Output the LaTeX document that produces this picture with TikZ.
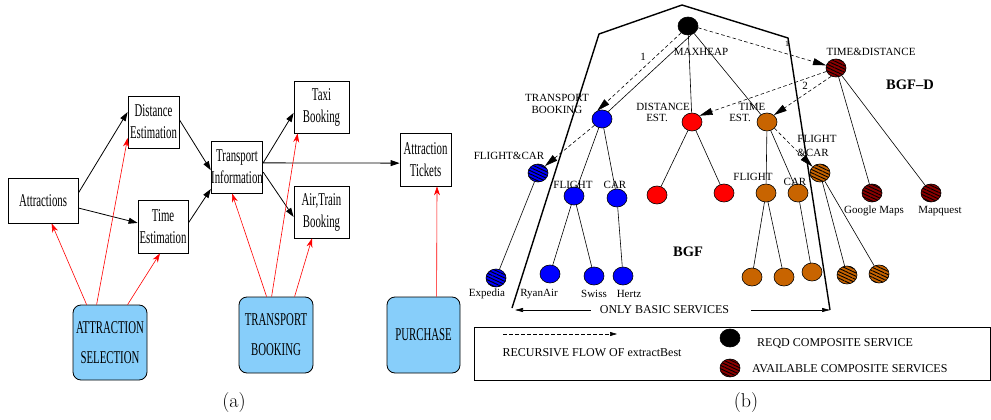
\documentclass[tikz,border=0pt]{standalone}
\usepackage{fontspec}
\newfontfamily\tms{Liberation Serif}
\newfontfamily\condA[FakeStretch=0.6]{Liberation Serif}
\usetikzlibrary{arrows.meta,shapes.geometric,patterns.meta}
\definecolor{skyb}{RGB}{135,206,250}
\definecolor{orng}{RGB}{200,100,0}
\definecolor{dred}{RGB}{140,0,0}
\tikzset{
  wbox/.style={draw, line width=0.8pt, inner sep=0pt, align=center,
    font=\condA\fontsize{18}{22}\selectfont},
  bbox/.style={draw, line width=0.8pt, inner sep=0pt, align=center, rounded corners=8pt,
    fill=skyb, font=\condA\fontsize{18}{30}\selectfont},
  blk/.style={line width=0.8pt, -{Triangle[length=9pt,width=6pt]}},
  rda/.style={red, line width=0.6pt, -{Stealth[length=9pt,width=6pt]}},
  cn/.style={ellipse, draw, line width=0.6pt, minimum width=20pt, minimum height=18pt, inner sep=0pt},
  hatch/.style={preaction={fill=#1}, pattern={Lines[angle=-25,distance=3pt,line width=0.9pt]}, pattern color=black},
  edg/.style={line width=0.6pt},
  dsh/.style={line width=0.6pt, dash pattern=on 3.5pt off 2.5pt, -{Triangle[length=13pt,width=7pt]}},
  lbl/.style={font=\tms\fontsize{11}{12}\selectfont, inner sep=0pt, align=center},
  lgd/.style={font=\tms\fontsize{12}{14}\selectfont, inner sep=0pt},
  captxt/.style={font=\fontsize{20}{24}\selectfont, inner sep=0pt}
}
\begin{document}
\begin{tikzpicture}[x=1pt,y=-1pt]
\useasboundingbox (0,0) rectangle (991,420);
% ---------------- (a) ----------------
\node[wbox, minimum width=70pt, minimum height=45pt] (att) at (43,200.5) {Attractions};
\node[wbox, minimum width=51pt, minimum height=52pt] (dist) at (153.5,122) {Distance\\Estimation};
\node[wbox, minimum width=50pt, minimum height=53pt] (time) at (163,226.5) {Time\\Estimation};
\node[wbox, minimum width=50pt, minimum height=52pt] (tr) at (237,167) {Transport\\Information};
\node[wbox, minimum width=55pt, minimum height=52pt] (taxi) at (321.5,107) {Taxi\\Booking};
\node[wbox, minimum width=55pt, minimum height=52pt] (air) at (321.5,212) {Air,Train\\Booking};
\node[wbox, minimum width=51pt, minimum height=53pt] (tick) at (425.5,159.5) {Attraction\\Tickets};

\node[bbox, minimum width=74pt, minimum height=75pt] (asel) at (110,342.5) {ATTRACTION\\SELECTION};
\node[bbox, minimum width=74pt, minimum height=76pt] (tbk) at (276,335) {TRANSPORT\\BOOKING};
\node[bbox, minimum width=73pt, minimum height=76pt] (pur) at (423.5,335) {PURCHASE};

\draw[blk] (att.12) -- (dist.159);
\draw[blk] (att.-12) -- (time.172);
\draw[blk] (dist.5) -- (tr.187);
\draw[blk] (time.8) -- (tr.220);
\draw[blk] (tr.9) -- (taxi.192);
\draw[blk] (tr.-11) -- (air.190);
\draw[blk] (tr.9) -- (tick.188);

\draw[rda] ([xshift=14pt]asel.north west) -- ([xshift=44pt]att.south west);
\draw[rda] ([xshift=24pt]asel.north west) -- ([yshift=-16pt]dist.west);
\draw[rda] ([xshift=55pt]asel.north west) -- ([xshift=-3pt]time.south);
\draw[rda] ([xshift=28pt]tbk.north west) -- ([xshift=-5pt]tr.south);
\draw[rda] ([xshift=33pt]tbk.north west) -- ([xshift=4pt]taxi.south west);
\draw[rda] ([xshift=56pt]tbk.north west) -- ([xshift=-9.5pt]air.south);
\draw[rda] ([xshift=50pt]pur.north west) -- ([xshift=11.5pt]tick.south);

\node[captxt] (capa) at (234,403) {(a)};

% ---------------- (b) ----------------
\draw[line width=1.4pt] (512,308) -- (599,34) -- (682,5) -- (788,38) -- (830,310);

\node[cn, fill=black] (root) at (688,26) {};
\node[cn, fill=blue] (tb) at (602,119) {};
\node[cn, fill=red] (ds) at (692,122) {};
\node[cn, fill=orng] (tm) at (767,122) {};
\node[cn, hatch=dred] (td) at (836,68) {};
\node[cn, hatch=blue] (bfc) at (538,173) {};
\node[cn, fill=blue] (bfl) at (574,196) {};
\node[cn, fill=blue] (bcar) at (617,198) {};
\node[cn, fill=red] (r1) at (657,195) {};
\node[cn, fill=red] (r2) at (724,193) {};
\node[cn, fill=orng] (ofl) at (766,193) {};
\node[cn, fill=orng] (ocar) at (798,193) {};
\node[cn, hatch=orng] (ofc) at (820,173) {};
\node[cn, hatch=dred] (gm) at (872,193) {};
\node[cn, hatch=dred] (mq) at (931,193) {};
\node[cn, hatch=blue] (exp) at (496,278) {};
\node[cn, fill=blue] (ryan) at (550,274) {};
\node[cn, fill=blue] (swiss) at (594,276) {};
\node[cn, fill=blue] (hertz) at (623,276) {};
\node[cn, fill=orng] (o1) at (752,277) {};
\node[cn, fill=orng] (o2) at (784,277) {};
\node[cn, fill=orng] (o3) at (812,272) {};
\node[cn, hatch=orng] (h1) at (847,275) {};
\node[cn, hatch=orng] (h2) at (879,274) {};

\draw[edg] (root.290) -- (tb.50);
\draw[edg] (root) -- (ds);
\draw[edg] (root) -- (tm);
\draw[edg] (td) -- (gm);
\draw[edg] (td) -- (mq);
\draw[edg] (tb) -- (bfl);
\draw[edg] (tb) -- (bcar);
\draw[edg] (bfc) -- (exp);
\draw[edg] (bfl) -- (ryan);
\draw[edg] (bfl) -- (swiss);
\draw[edg] (bcar) -- (hertz);
\draw[edg] (ds) -- (r1);
\draw[edg] (ds) -- (r2);
\draw[edg] (tm) -- (ofl);
\draw[edg] (tm) -- (ocar);
\draw[edg] (ofl) -- (o1);
\draw[edg] (ofl) -- (o2);
\draw[edg] (ocar) -- (o3);
\draw[edg] (ofc) -- (h1);
\draw[edg] (ofc) -- (h2);

\draw[dsh] (root.225) -- (tb.120);
\draw[dsh] (root.-10) -- (td.165);
\draw[dsh] (td.200) -- (ds.40);
\draw[dsh] (td.240) -- (tm.45);
\draw[dsh] (tm.-40) -- (ofc.140);
\draw[dsh] (tb.220) -- (bfc.45);

\node[lbl] (lmax) at (701,52) {MAXHEAP};
\node[lbl] (lone) at (643,57) {1};
\node[lbl] (lone2) at (787,44) {\fontsize{8}{9}\selectfont 1};
\node[lbl] (ltwo) at (805,86) {2};
\node[lbl] (ltb) at (557,104) {TRANSPORT\\BOOKING};
\node[lbl] (lds1) at (663,107) {DISTANCE};
\node[lbl] (lds2) at (657,118) {EST.};
\node[lbl] (ltm1) at (752,107) {TIME};
\node[lbl] (ltm2) at (740,118) {EST.};
\node[lbl] (ltd) at (871,52) {TIME\&DISTANCE};
\node[lbl, font=\tms\bfseries\fontsize{14.5}{16}\selectfont] (lbgfd) at (910,85) {BGF–D};
\node[lbl, font=\tms\bfseries\fontsize{14.5}{16}\selectfont] (lbgf) at (688,252) {BGF};
\node[lbl] (lbfc) at (509,156) {FLIGHT\&CAR};
\node[lbl] (lbfl) at (573,185) {FLIGHT};
\node[lbl] (lbcar) at (615,185) {CAR};
\node[lbl] (lofl) at (753,177) {FLIGHT};
\node[lbl] (locar) at (795,182) {CAR};
\node[lbl] (lofc1) at (817,139) {FLIGHT};
\node[lbl] (lofc2) at (813,153) {\&CAR};
\node[lbl] (lgm) at (874,211) {Google Maps};
\node[lbl] (lmq) at (940,211) {Mapquest};
\node[lbl] (lexp) at (487,294) {Expedia};
\node[lbl] (lry) at (539,294) {RyanAir};
\node[lbl] (lsw) at (594,294) {Swiss};
\node[lbl] (lhz) at (629,294) {Hertz};

\node[lgd] (obs) at (664.5,310) {ONLY BASIC SERVICES};
\coordinate (obsL) at (515,310);
\coordinate (obsR) at (830,310);
\draw[line width=0.6pt, -{Triangle[length=8pt,width=4pt]}] ([xshift=-9pt]obs.west) -- (obsL);
\draw[line width=0.6pt, -{Triangle[length=8pt,width=4pt]}] ([xshift=22pt]obs.east) -- (obsR);

\draw[line width=0.8pt] (474,327) rectangle (990,380);
\coordinate (lg1) at (503,334);
\coordinate (lg2) at (617,334);
\draw[line width=0.6pt, dash pattern=on 3.5pt off 2.5pt, -{Triangle[length=7pt,width=4pt]}] (lg1) -- (lg2);
\node[lgd] (lrec) at (592,353) {RECURSIVE FLOW OF extractBest};
\node[cn, fill=black] (lgb) at (730,338) {};
\node[cn, hatch=dred] (lgr) at (730,368) {};
\node[lgd, anchor=west] (lreqd) at (757,343) {REQD COMPOSITE SERVICE};
\node[lgd, anchor=west] (lavail) at (752,369) {AVAILABLE COMPOSITE SERVICES};

\node[captxt] (capb) at (746,403) {(b)};
\end{tikzpicture}
\end{document}
